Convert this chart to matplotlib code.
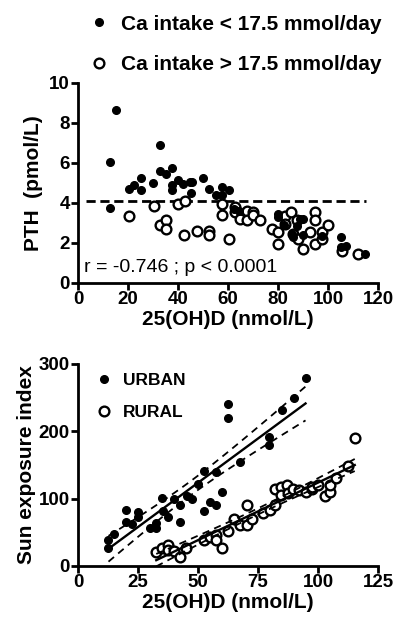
import numpy as np
import matplotlib
matplotlib.use("Agg")
import matplotlib.pyplot as plt
from matplotlib.lines import Line2D

plt.rcParams['font.family'] = ['Liberation Sans', 'DejaVu Sans']

# ---------------- Top panel data: PTH vs 25(OH)D ----------------
low_ca_x = [15.3, 12.6, 12.6, 20.2, 22.5, 25.3, 25.3, 29.9, 32.6, 32.6, 35.2, 37.5, 37.5, 37.5,
            39.9, 42.1, 44.6, 45.6, 45.1, 50.0, 52.5, 55.1, 57.4, 57.4, 60.2, 62.5, 64.5,
            80.0, 80.0, 82.5, 85.4, 86.0, 87.4, 88.7, 90.0, 90.0, 97.4, 105.3, 105.3, 107.0, 114.6]
low_ca_y = [8.67, 6.07, 3.75, 4.68, 4.92, 5.25, 4.63, 5.02, 6.92, 5.58, 5.43, 5.75, 4.88, 4.67,
            5.17, 4.97, 5.05, 5.05, 4.50, 5.25, 4.70, 4.38, 4.80, 4.38, 4.63, 3.70, 3.60,
            3.47, 3.30, 2.90, 2.47, 2.30, 2.85, 3.20, 3.22, 2.38, 2.35, 2.30, 1.80, 1.85, 1.47]

high_ca_x = [20.2, 30.2, 32.6, 35.2, 35.2, 39.9, 42.8, 42.4, 47.5, 52.5, 52.5, 57.6, 57.6, 60.2,
             62.8, 62.8, 64.8, 67.4, 67.7, 70.1, 70.1, 72.7, 77.4, 80.0, 80.0, 82.7, 82.7, 85.0,
             86.0, 87.4, 88.0, 90.0, 92.7, 94.7, 94.7, 94.7, 97.4, 97.4, 100.0, 105.5, 112.0]
high_ca_y = [3.33, 3.87, 2.92, 3.17, 2.68, 3.97, 4.10, 2.38, 2.58, 2.58, 2.38, 3.97, 3.42, 2.18,
             3.80, 3.55, 3.22, 3.58, 3.13, 3.55, 3.38, 3.13, 2.68, 1.97, 2.55, 3.35, 2.93, 3.55,
             2.47, 3.13, 2.22, 1.72, 2.55, 3.55, 3.13, 1.97, 2.22, 2.55, 2.88, 1.60, 1.47]

pth_threshold = 4.1
threshold_x = [3.0, 115.0]
stat_text = "r = -0.746 ; p < 0.0001"

# ---------------- Bottom panel data: sun exposure vs 25(OH)D ----------------
urban_x = [12.7, 12.7, 15.1, 20.1, 20.1, 22.4, 25.2, 25.2, 30.1, 32.6, 32.6, 34.9, 35.3, 37.7,
           40.0, 42.5, 42.5, 45.3, 47.4, 49.9, 52.5, 52.5, 55.0, 57.5, 57.5, 59.9, 62.6, 62.6,
           67.5, 79.7, 79.7, 85.1, 90.1, 94.8]
urban_y = [38, 26, 47, 83, 66, 62, 80, 73, 56, 64, 57, 101, 81, 73,
           99, 90, 66, 104, 100, 121, 141, 81, 95, 139, 90, 110, 240, 220,
           155, 192, 180, 231, 250, 279]

rural_x = [32.6, 34.9, 37.7, 37.7, 40.0, 42.5, 45.0, 52.5, 55.0, 57.5, 57.5, 59.9, 62.6, 65.1,
           67.5, 70.3, 70.3, 72.6, 77.2, 80.0, 82.0, 82.0, 84.4, 84.4, 86.9, 87.6, 89.7, 92.2,
           95.2, 97.3, 97.3, 100.0, 102.8, 104.9, 104.9, 107.4, 112.5, 115.3]
rural_y = [21, 26, 31, 23, 22, 14, 26, 38, 43, 46, 39, 27, 52, 70,
           61, 91, 61, 70, 79, 83, 90, 114, 118, 105, 120, 108, 115, 113,
           110, 115, 118, 120, 104, 110, 120, 130, 149, 190]

T_CRIT = 2.03  # approx. two-sided 95% t value


def fit_with_ci(x, y):
    x = np.asarray(x, float)
    y = np.asarray(y, float)
    b, a = np.polyfit(x, y, 1)
    xs = np.linspace(x.min(), x.max(), 100)
    yhat = a + b * xs
    n = len(x)
    resid = y - (a + b * x)
    s = np.sqrt(np.sum(resid ** 2) / (n - 2))
    se = s * np.sqrt(1.0 / n + (xs - x.mean()) ** 2 / np.sum((x - x.mean()) ** 2))
    return xs, yhat, yhat - T_CRIT * se, yhat + T_CRIT * se


fig = plt.figure(figsize=(3.95, 6.24), dpi=100)

label_font = dict(fontsize=15, fontweight='bold')


def style_axes(ax):
    for s in ['top', 'right']:
        ax.spines[s].set_visible(False)
    for s in ['left', 'bottom']:
        ax.spines[s].set_linewidth(2)
    ax.tick_params(width=2, length=5, direction='out', pad=1)
    for lab in ax.get_xticklabels() + ax.get_yticklabels():
        lab.set_fontsize(13.5)
        lab.set_fontweight('bold')


FILLED = dict(ls='none', marker='o', color='black', ms=5.5)
OPEN = dict(ls='none', marker='o', mfc='white', mec='black', mew=1.7, ms=7)

# ---- top axes ----
ax1 = fig.add_axes([0.1975, 0.5465, 0.7595, 0.3205])
ax1.plot(low_ca_x, low_ca_y, clip_on=False, zorder=3, **FILLED)
ax1.plot(high_ca_x, high_ca_y, clip_on=False, zorder=2, **OPEN)
ax1.plot(threshold_x, [pth_threshold, pth_threshold], color='black', lw=2,
         dashes=(3.3, 1.7), zorder=1)
ax1.set_xlim(0, 120)
ax1.set_ylim(0, 10)
ax1.set_xticks(np.arange(0, 121, 20))
ax1.set_yticks(np.arange(0, 11, 2))
style_axes(ax1)
ax1.set_xlabel('25(OH)D (nmol/L)', labelpad=1, **label_font)
ax1.set_ylabel('PTH  (pmol/L)', labelpad=4, **label_font)
ax1.text(2.5, 0.75, stat_text, fontsize=14, va='center', ha='left')

handles1 = [Line2D([], [], **FILLED), Line2D([], [], **OPEN)]
fig.legend(handles1, ['Ca intake < 17.5 mmol/day', 'Ca intake > 17.5 mmol/day'],
           loc='upper left', bbox_to_anchor=(0.2, 0.995), frameon=False,
           prop=dict(size=15, weight='bold'), handlelength=0.8, handletextpad=0.65,
           labelspacing=1.05, borderaxespad=0.15)

# ---- bottom axes ----
ax2 = fig.add_axes([0.1975, 0.093, 0.7595, 0.3237])
ax2.plot(urban_x, urban_y, clip_on=False, zorder=3, **FILLED)
ax2.plot(rural_x, rural_y, clip_on=False, zorder=2, **OPEN)
for xx, yy in [(urban_x, urban_y), (rural_x, rural_y)]:
    xs, yh, lo, hi = fit_with_ci(xx, yy)
    ax2.plot(xs, yh, color='black', lw=1.7, zorder=4)
    ax2.plot(xs, lo, color='black', lw=1.3, dashes=(4, 3), zorder=4)
    ax2.plot(xs, hi, color='black', lw=1.3, dashes=(4, 3), zorder=4)
ax2.set_xlim(0, 125)
ax2.set_ylim(0, 300)
ax2.set_xticks(np.arange(0, 126, 25))
ax2.set_yticks([0, 100, 200, 300])
style_axes(ax2)
ax2.set_xlabel('25(OH)D (nmol/L)', labelpad=1, **label_font)
ax2.set_ylabel('Sun exposure index', labelpad=2, **label_font)

handles2 = [Line2D([], [], **FILLED), Line2D([], [], **OPEN)]
ax2.legend(handles2, ['URBAN', 'RURAL'], loc='upper left', bbox_to_anchor=(0.035, 1.0),
           frameon=False, prop=dict(size=12.5, weight='bold'), handlelength=0.8,
           handletextpad=0.7, labelspacing=1.0, borderaxespad=0.1)

fig.savefig('out.png', dpi=100)
